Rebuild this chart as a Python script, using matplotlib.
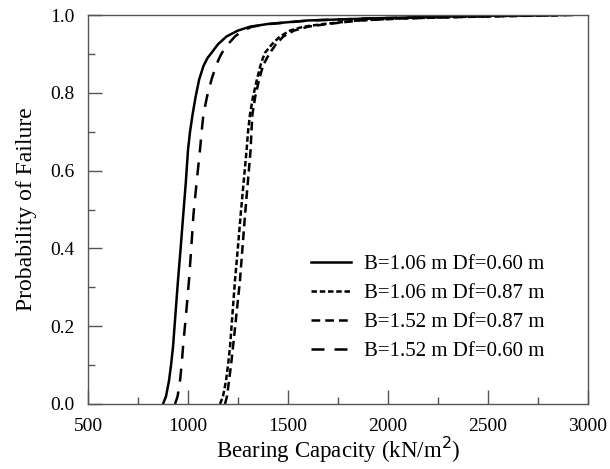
import matplotlib.pyplot as plt
from matplotlib.ticker import MultipleLocator

plt.rcParams['font.family'] = ['Liberation Serif', 'DejaVu Serif']
plt.rcParams['mathtext.fontset'] = 'dejavusans'

# Cumulative probability of failure vs bearing capacity
p_levels = [0.0, 0.02, 0.06, 0.10, 0.147, 0.23, 0.319, 0.40, 0.486, 0.57,
            0.654, 0.70, 0.745, 0.79, 0.835, 0.87, 0.89, 0.903, 0.925, 0.945,
            0.96, 0.97, 0.977, 0.986, 0.991, 0.995, 0.998, 1.0]

x_b106_df060 = [875, 890, 905, 915, 925, 937, 950, 963, 976, 989,
                1000, 1010, 1023, 1038, 1056, 1078, 1098, 1118, 1150, 1193,
                1250, 1310, 1400, 1600, 1900, 2200, 2500, 2800]
x_b106_df087 = [1160, 1175, 1190, 1200, 1210, 1222, 1235, 1249, 1263, 1278,
                1293, 1300, 1310, 1325, 1345, 1362, 1375, 1385, 1420, 1460,
                1510, 1577, 1680, 1850, 2050, 2350, 2650, 2900]
x_b152_df087 = [1185, 1195, 1205, 1215, 1225, 1242, 1260, 1272, 1285, 1299,
                1313, 1317, 1322, 1336, 1356, 1375, 1395, 1410, 1440, 1477,
                1530, 1600, 1700, 1860, 2060, 2380, 2700, 2930]
x_b152_df060 = [935, 948, 960, 968, 975, 990, 1005, 1016, 1027, 1043,
                1060, 1068, 1077, 1095, 1118, 1140, 1157, 1170, 1200, 1235,
                1275, 1320, 1410, 1610, 1900, 2250, 2550, 2850]

labels = ['B=1.06 m Df=0.60 m', 'B=1.06 m Df=0.87 m',
          'B=1.52 m Df=0.87 m', 'B=1.52 m Df=0.60 m']

fig = plt.figure(figsize=(6.1, 4.69), dpi=100)
ax = fig.add_axes([0.1443, 0.1386, 0.8197, 0.8294])

ax.plot(x_b106_df060, p_levels, color='black', lw=1.8, linestyle='-', label=labels[0])
ax.plot(x_b106_df087, p_levels, color='black', lw=1.8, linestyle=(0, (2.2, 1.1)), label=labels[1])
ax.plot(x_b152_df087, p_levels, color='black', lw=1.8, linestyle=(0, (3.5, 2)), label=labels[2])
ax.plot(x_b152_df060, p_levels, color='black', lw=1.8, linestyle=(0, (5.2, 4)), label=labels[3])

ax.set_xlim(500, 3000)
ax.set_ylim(0, 1.0)
ax.xaxis.set_major_locator(MultipleLocator(500))
ax.xaxis.set_minor_locator(MultipleLocator(250))
ax.yaxis.set_major_locator(MultipleLocator(0.2))
ax.yaxis.set_minor_locator(MultipleLocator(0.1))
ax.yaxis.set_major_formatter(plt.FormatStrFormatter('%.1f'))

ax.tick_params(which='both', direction='in', color='#555555', width=1)
ax.tick_params(which='major', length=10, labelsize=14, pad=10)
ax.tick_params(which='minor', length=5)
for s in ax.spines.values():
    s.set_color('#555555')
    s.set_linewidth(1)

ax.set_xlabel('Bearing Capacity (kN/m$^2$)', fontsize=16.5, labelpad=0)
ax.set_ylabel('Probability of Failure', fontsize=17, labelpad=9)

ax.legend(loc='lower right', bbox_to_anchor=(0.95, 0.062), frameon=False,
          fontsize=15, handlelength=1.9, labelspacing=0.45, handletextpad=0.63)

fig.savefig('out.png', dpi=100)
